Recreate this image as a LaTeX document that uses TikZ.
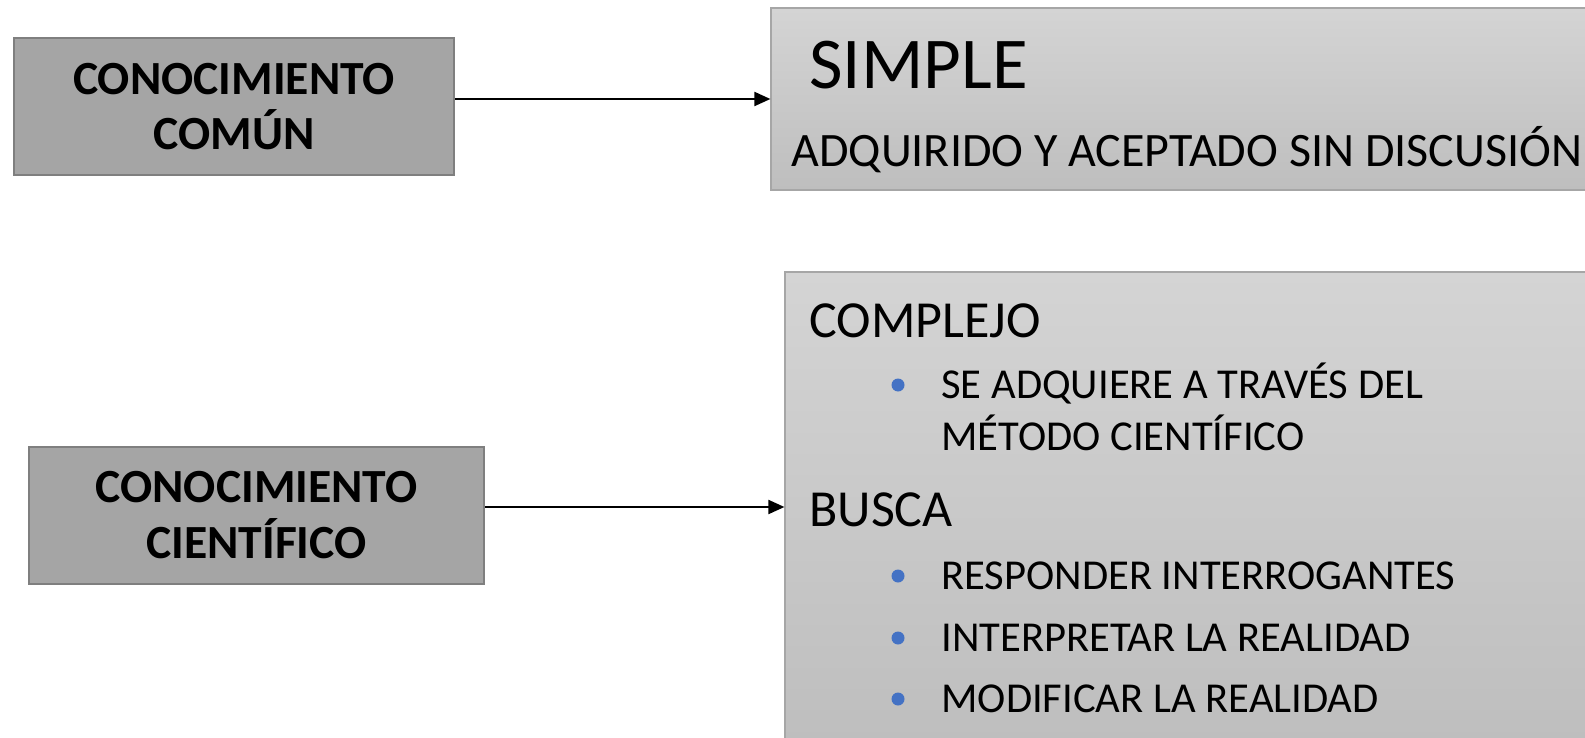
\documentclass[tikz,border=0pt]{standalone}
\usepackage{fontspec}
\setmainfont{Carlito}
\usetikzlibrary{arrows.meta}
\definecolor{boxgray}{HTML}{A5A5A5}
\definecolor{boxedge}{HTML}{7F7F7F}
\definecolor{paneltop}{HTML}{D4D4D4}
\definecolor{panelbot}{HTML}{BEBEBE}
\definecolor{paneledge}{HTML}{A6A6A6}
\definecolor{dotblue}{HTML}{4472C4}

\begin{document}
\begin{tikzpicture}[x=0.5pt,y=-0.5pt,
  box/.style={draw=boxedge,line width=1pt,fill=boxgray,rectangle,inner sep=0pt,
    minimum width=#1,minimum height=68.5pt,align=center,
    font=\fontsize{23.8}{27.8}\selectfont\bfseries},
  panel/.style={draw=paneledge,line width=0.6pt,top color=paneltop,bottom color=panelbot,
    rectangle,inner sep=0pt},
  txt/.style={anchor=base west,inner sep=0pt,font=\fontsize{#1}{#1}\selectfont},
  dot/.style={circle,fill=dotblue,inner sep=0pt,minimum size=6.5pt},
  conn/.style={line width=1pt,-{Triangle[length=8pt,width=7pt]}}]
\useasboundingbox (0,0) rectangle (1585,738);
\clip (0,0) rectangle (1585,738);

% left boxes
\node[box=220pt] (comun) at (234,106.5) {CONOCIMIENTO\\COMÚN};
\node[box=227.5pt] (cientifico) at (256.5,515) {CONOCIMIENTO\\CIENTÍFICO};

% right panels
\node[panel,minimum width=409.5pt,minimum height=91pt] (simple) at (1180.5,99) {};
\node[panel,minimum width=402.5pt,minimum height=235pt] (detalle) at (1187.5,507) {};

\node[txt=36.5] (simpletit) at (809,89) {SIMPLE};
\node[txt=24] (simpledesc) at (791,167) {ADQUIRIDO Y ACEPTADO SIN DISCUSIÓN};

\node[txt=26] (complejo) at (809,337) {COMPLEJO};
\node[dot] (dot0) at (898,385) {};
\node[txt=21.3] (item0) at (941,398) {SE ADQUIERE A TRAVÉS DEL};
\node[txt=21.3] (item0b) at (941,450) {MÉTODO CIENTÍFICO};
\node[txt=26] (busca) at (809,526) {BUSCA};
\foreach \y/\t [count=\i] in %
{589/RESPONDER INTERROGANTES,651/INTERPRETAR LA REALIDAD,712/MODIFICAR LA REALIDAD} {
   \node[dot] (dot\i) at (898,\y-13) {};
   \node[txt=21.3] (item\i) at (941,\y) {\t};
}

% connectors
\draw[conn] (comun.east |- simple.west) -- (simple.west);
\draw[conn] (cientifico.east |- detalle.west) -- (detalle.west);
\end{tikzpicture}
\end{document}
